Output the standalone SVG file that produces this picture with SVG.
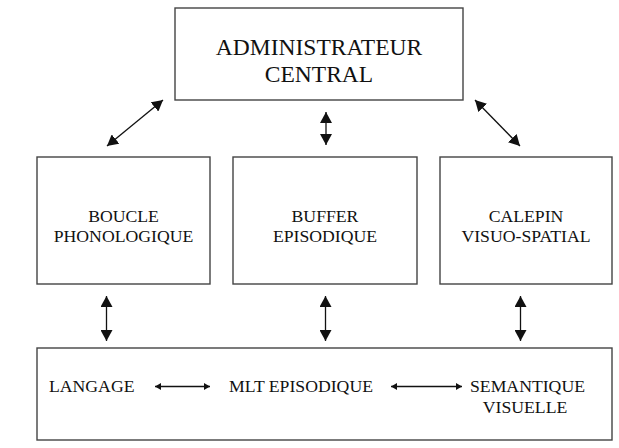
<svg xmlns="http://www.w3.org/2000/svg" width="619" height="448" viewBox="0 0 619 448">
  <style>
    .box { fill: #ffffff; stroke: #444444; stroke-width: 1.4; }
    .lbl { font-family: "Liberation Serif", "Times New Roman", serif; font-size: 17.7px; fill: #111111; }
    .big { font-size: 23.5px; }
    .conn { stroke: #111111; stroke-width: 1.3; fill: none; }
    .big-arrow { marker-start: url(#hb); marker-end: url(#hb); }
    .small-arrow { marker-start: url(#hs); marker-end: url(#hs); stroke-width: 1.6; }
  </style>
  <defs>
    <marker id="hb" markerUnits="userSpaceOnUse" markerWidth="11" markerHeight="12" refX="11" refY="6" orient="auto-start-reverse">
      <path d="M0,0 L11,6 L0,12 z" fill="#111111"/>
    </marker>
    <marker id="hs" markerUnits="userSpaceOnUse" markerWidth="6" markerHeight="7" refX="6" refY="3.5" orient="auto-start-reverse">
      <path d="M0,0 L6,3.5 L0,7 z" fill="#111111"/>
    </marker>
  </defs>
  <rect width="619" height="448" fill="#ffffff"/>

  <g id="administrateur">
    <rect class="box" x="175" y="8" width="288" height="92"/>
    <text class="lbl big" x="319" y="55" text-anchor="middle">ADMINISTRATEUR</text>
    <text class="lbl big" x="319" y="81.5" text-anchor="middle">CENTRAL</text>
  </g>

  <g id="boucle">
    <rect class="box" x="37" y="157" width="173" height="127"/>
    <text class="lbl" x="123.5" y="221.7" text-anchor="middle">BOUCLE</text>
    <text class="lbl" x="123.5" y="241.7" text-anchor="middle">PHONOLOGIQUE</text>
  </g>

  <g id="buffer">
    <rect class="box" x="233" y="157" width="184" height="127"/>
    <text class="lbl" x="325" y="221.7" text-anchor="middle">BUFFER</text>
    <text class="lbl" x="325" y="241.7" text-anchor="middle">EPISODIQUE</text>
  </g>

  <g id="calepin">
    <rect class="box" x="440" y="157" width="172" height="127"/>
    <text class="lbl" x="526" y="221.7" text-anchor="middle">CALEPIN</text>
    <text class="lbl" x="526" y="241.7" text-anchor="middle">VISUO-SPATIAL</text>
  </g>

  <g id="mlt">
    <rect class="box" x="37" y="348" width="575" height="92"/>
    <text class="lbl" x="49" y="392">LANGAGE</text>
    <text class="lbl" x="229" y="392">MLT EPISODIQUE</text>
    <text class="lbl" x="470" y="392">SEMANTIQUE</text>
    <text class="lbl" x="525" y="413" text-anchor="middle">VISUELLE</text>
  </g>

  <g id="connectors">
    <line class="conn big-arrow" x1="163" y1="100" x2="107" y2="146"/>
    <line class="conn big-arrow" x1="326" y1="112" x2="326" y2="145"/>
    <line class="conn big-arrow" x1="475" y1="100" x2="520" y2="146"/>
    <line class="conn big-arrow" x1="106.5" y1="296" x2="106.5" y2="341"/>
    <line class="conn big-arrow" x1="325.5" y1="296" x2="325.5" y2="341"/>
    <line class="conn big-arrow" x1="520.5" y1="296" x2="520.5" y2="341"/>
    <line class="conn small-arrow" x1="155" y1="386.5" x2="210" y2="386.5"/>
    <line class="conn small-arrow" x1="391" y1="386.5" x2="462" y2="386.5"/>
  </g>
</svg>
